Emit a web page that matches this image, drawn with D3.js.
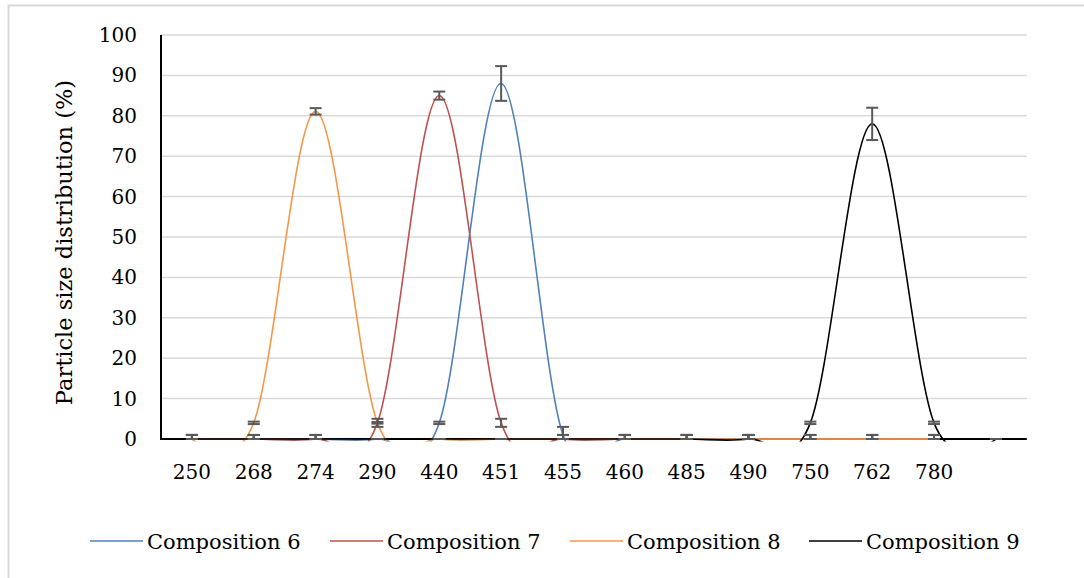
<!DOCTYPE html>
<html>
<head>
<meta charset="utf-8">
<script src="https://cdn.jsdelivr.net/npm/d3@7"></script>
<style>
  body { margin: 0; background: #fff; }
  svg { display: block; }
  text { font-family: "DejaVu Serif", serif; fill: #000; }
</style>
</head>
<body>
<svg id="chart" width="1084" height="578"></svg>
<script>
// Particle size classes (nm); the last slot is an unlabeled category
const categories = ["250", "268", "274", "290", "440", "451", "455", "460", "485", "490", "750", "762", "780", ""];

// Distribution (%) per composition, and the error (±) at each point
const comp6 = [0, 0, 0, 0, 4, 88, 1, 0, 0, 0, 0, 0, 0];
const err6  = [1, 1, 1, 0, 0.3, 4.3, 2, 1, 1, 1, 1, 1, 1];
const comp7 = [0, 0, 0, 4, 85, 4, 0, 0, 0, 0, 0, 0, 0];
const err7  = [1, 1, 1, 0.2, 1, 1, 1, 1, 1, 1, 1, 1, 1];
const comp8 = [0, 4, 81.1, 4, 0, 0, 0, 0, 0, 0, 0, 0, 0];
const err8  = [1, 0.3, 0.8, 1, 0, 0, 1, 1, 1, 1, 1, 1, 1];
const comp9 = [0, 0, 0, 0, 0, 0, 0, 0, 0, 0, 4, 78, 4, 0];
const err9  = [1, 1, 1, 0, 0, 0, 1, 1, 1, 1, 0.3, 4, 0.3, 0];

const yTicks = [0, 10, 20, 30, 40, 50, 60, 70, 80, 90, 100];
const seriesNames = ["Composition 6", "Composition 7", "Composition 8", "Composition 9"];
const seriesColors = ["#4F81BD", "#C0504D", "#F79646", "#000000"];

const series = [
  { name: seriesNames[0], color: seriesColors[0], values: comp6, errors: err6 },
  { name: seriesNames[1], color: seriesColors[1], values: comp7, errors: err7 },
  { name: seriesNames[2], color: seriesColors[2], values: comp8, errors: err8 },
  { name: seriesNames[3], color: seriesColors[3], values: comp9, errors: err9 }
];

const svg = d3.select("#chart");

// chart frame
svg.append("rect")
  .attr("x", 8.5).attr("y", 5.5)
  .attr("width", 1100).attr("height", 600)
  .attr("fill", "none").attr("stroke", "#D9D9D9").attr("stroke-width", 2);

const plot = { left: 161, right: 1026.8, top: 35, bottom: 439 };

const x = d3.scaleBand()
  .domain(d3.range(categories.length))
  .range([plot.left, plot.right]);
const cx = i => x(i) + x.bandwidth() / 2;

const y = d3.scaleLinear().domain([0, 100]).range([plot.bottom, plot.top]);

// horizontal gridlines
svg.append("g")
  .selectAll("line")
  .data(yTicks.filter(t => t > 0))
  .join("line")
  .attr("x1", plot.left).attr("x2", plot.right)
  .attr("y1", d => y(d)).attr("y2", d => y(d))
  .attr("stroke", "#D9D9D9").attr("stroke-width", 1.5);

// y axis labels
const yAxis = svg.append("g")
  .attr("transform", `translate(${plot.left},0)`)
  .call(d3.axisLeft(y).tickValues(yTicks).tickSize(0).tickPadding(24));
yAxis.select(".domain").remove();
yAxis.selectAll("text")
  .style("font-family", '"DejaVu Serif", serif')
  .style("font-size", "20px")
  .attr("fill", "#000");

// x axis labels
const xAxis = svg.append("g")
  .attr("transform", `translate(0,${plot.bottom})`)
  .call(d3.axisBottom(x).tickFormat(i => categories[i]).tickSize(0).tickPadding(26));
xAxis.select(".domain").remove();
xAxis.selectAll("text")
  .style("font-family", '"DejaVu Serif", serif')
  .style("font-size", "20px")
  .attr("fill", "#000");

// axis lines
svg.append("line")
  .attr("x1", plot.left).attr("x2", plot.left)
  .attr("y1", plot.top).attr("y2", plot.bottom + 1)
  .attr("stroke", "#000").attr("stroke-width", 2);
svg.append("line")
  .attr("x1", plot.left).attr("x2", plot.right)
  .attr("y1", plot.bottom).attr("y2", plot.bottom)
  .attr("stroke", "#000").attr("stroke-width", 2);

// y axis title
svg.append("text")
  .attr("transform", `translate(72,${(77 + 408) / 2}) rotate(-90)`)
  .attr("text-anchor", "middle")
  .style("font-size", "22.5px")
  .text("Particle size distribution (%)");

// clip region for the smoothed lines
svg.append("defs").append("clipPath").attr("id", "plotClip")
  .append("rect")
  .attr("x", plot.left).attr("y", plot.top - 10)
  .attr("width", plot.right - plot.left)
  .attr("height", plot.bottom - plot.top + 12.5);

const line = d3.line()
  .x((d, i) => cx(i))
  .y(d => y(d))
  .curve(d3.curveCatmullRom.alpha(0));

svg.append("g").attr("clip-path", "url(#plotClip)")
  .selectAll("path")
  .data(series)
  .join("path")
  .attr("d", s => line(s.values))
  .attr("fill", "none")
  .attr("stroke", s => s.color)
  .attr("stroke-width", 1.6);

// error bars
const capHalf = 6;
const errG = svg.append("g").attr("stroke", "#595959").attr("stroke-width", 2);
series.forEach(s => {
  s.values.forEach((v, i) => {
    const lo = Math.max(0, v - s.errors[i]);
    const hi = v + s.errors[i];
    const px = cx(i);
    const g = errG.append("g");
    if (hi > lo) {
      g.append("line").attr("x1", px).attr("x2", px).attr("y1", y(lo)).attr("y2", y(hi));
    }
    g.append("line").attr("x1", px - capHalf).attr("x2", px + capHalf).attr("y1", y(hi)).attr("y2", y(hi));
    g.append("line").attr("x1", px - capHalf).attr("x2", px + capHalf).attr("y1", y(lo)).attr("y2", y(lo));
  });
});

// legend
const legendX = [90, 330, 570, 809];
const legend = svg.append("g")
  .selectAll("g")
  .data(series)
  .join("g")
  .attr("transform", (d, i) => `translate(${legendX[i]},541)`);
legend.append("line")
  .attr("x1", 0).attr("x2", 53).attr("y1", 0).attr("y2", 0)
  .attr("stroke", d => d.color).attr("stroke-width", 1.6);
legend.append("text")
  .attr("x", 57).attr("y", 7.5)
  .style("font-size", "21px")
  .text(d => d.name);
</script>
</body>
</html>
